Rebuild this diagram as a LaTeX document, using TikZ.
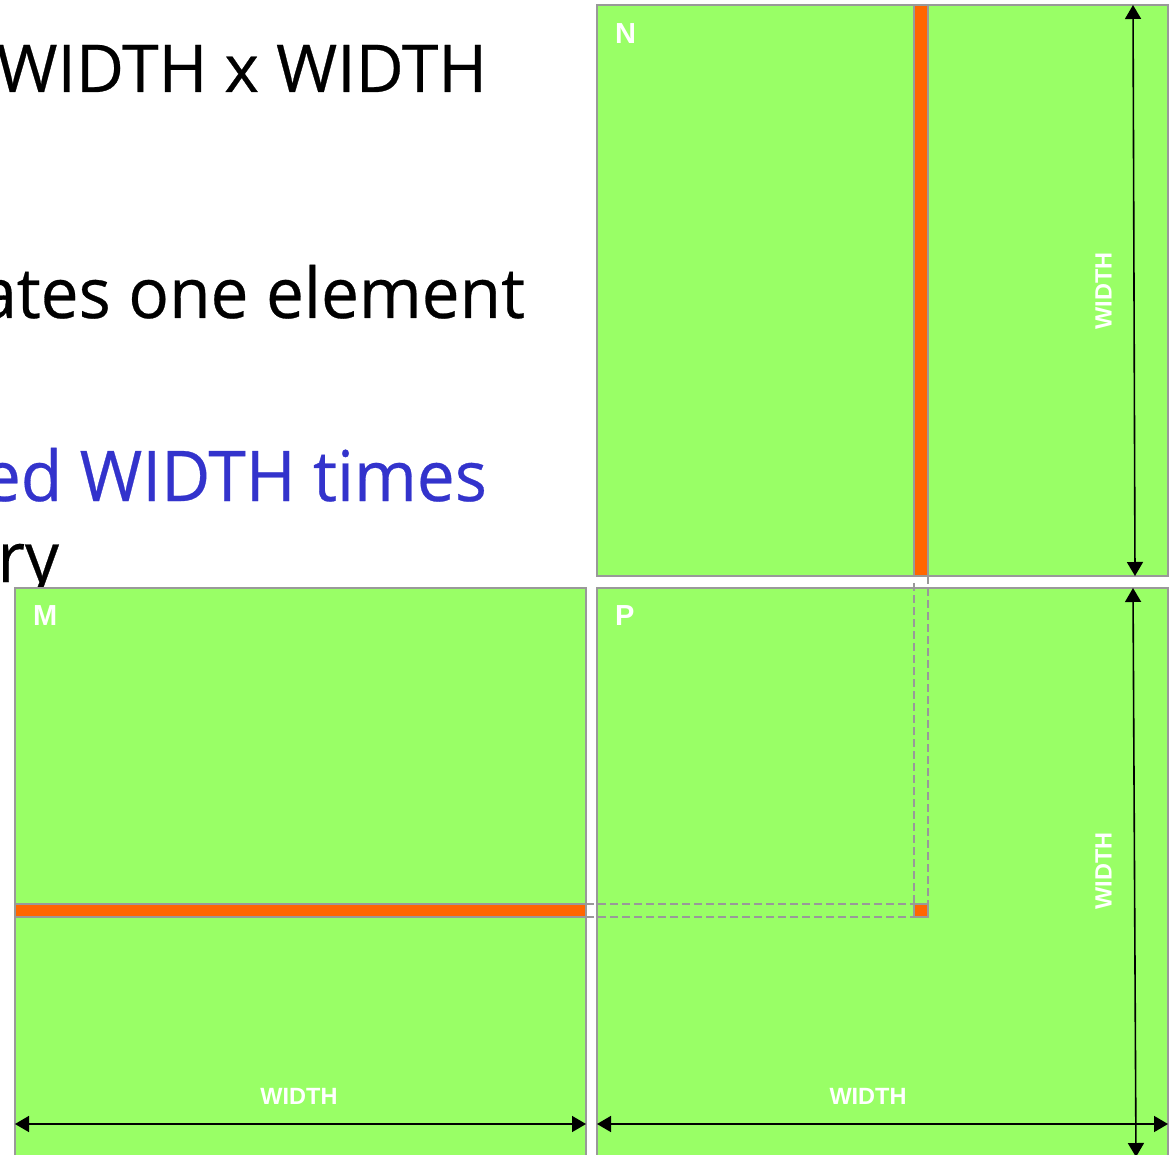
\documentclass[tikz,border=0pt]{standalone}
\usepackage{fontspec}
\newfontfamily\slidefont[FakeBold=0.4]{Open Sans}
\newfontfamily\slidefontn[FakeStretch=0.965,FakeBold=0.4]{Open Sans}
\newfontfamily\labfont{Liberation Sans}
\usetikzlibrary{arrows.meta}
\definecolor{matgreen}{RGB}{153,255,102}
\definecolor{stripcol}{RGB}{255,102,0}
\definecolor{edgecol}{RGB}{153,153,153}
\definecolor{slideblue}{RGB}{51,51,204}
\tikzset{
  matbox/.style={draw=edgecol, fill=matgreen, line width=2pt, minimum width=571pt, minimum height=571pt, anchor=north west, inner sep=0pt, outer sep=0pt},
  stripbox/.style={draw=edgecol, fill=stripcol, line width=1.5pt, anchor=north west, inner sep=0pt, outer sep=0pt},
  guide/.style={draw=edgecol, line width=2.4pt, dash pattern=on 8pt off 4pt},
  dimline/.style={draw=black, line width=1.6pt, {Triangle[length=14pt,width=16pt]}-{Triangle[length=14pt,width=16pt]}},
  slidetext/.style={inner sep=0pt, outer sep=0pt, text=black},
  matlabel/.style={inner sep=0pt, outer sep=0pt, text=white, font=\labfont\bfseries\fontsize{29}{34}\selectfont, anchor=base west},
  dimlabel/.style={inner sep=0pt, outer sep=0pt, text=white, font=\labfont\bfseries\fontsize{23.5}{28}\selectfont}
}
\begin{document}
\begin{tikzpicture}[x=1pt,y=-1pt]
\useasboundingbox (0,0) rectangle (1173,1155);
\clip (0,0) rectangle (1173,1155);
\fill[white] (0,0) rectangle (1173,1155);
% slide text (cut at the left edge)
\node[slidetext, font=\slidefont\fontsize{66}{79}\selectfont, anchor=base east] (t1) at (487,92) {WIDTH x WIDTH};
\node[slidetext, font=\slidefontn\fontsize{70}{84}\selectfont, anchor=base east] (t2) at (525,318) {ates one element};
\node[slidetext, font=\slidefontn\fontsize{70}{84}\selectfont, anchor=base east, text=slideblue] (t3) at (487,501) {ed WIDTH times};
\node[slidetext, font=\slidefontn\fontsize{70}{84}\selectfont, anchor=base east] (t4) at (59,582) {ry};
% matrices
\node[matbox] (N) at (597,5) {};
\node[matbox] (M) at (15,588) {};
\node[matbox] (P) at (597,588) {};
% strips
\node[stripbox, minimum width=14pt, minimum height=571pt] (ncol) at (914,5) {};
\node[stripbox, minimum width=571pt, minimum height=13pt] (mrow) at (15,904) {};
\node[stripbox, minimum width=14pt, minimum height=13pt] (pel) at (914,904) {};
% dashed guides
\coordinate (g1) at (914,583);
\draw[guide] (g1) -- (pel.north west);
\draw[guide] (ncol.south east) -- (pel.north east);
\draw[guide] (mrow.north east) -- (pel.north west);
\draw[guide] (mrow.south east) -- (pel.south west);
% labels
\node[matlabel] (nl) at (615,44) {N};
\node[matlabel] (ml) at (33,625) {M};
\node[matlabel] (pl) at (615,625) {P};
% dimension arrows
\coordinate (na1) at (1133,5);
\coordinate (na2) at (1135,576);
\coordinate (pa1) at (1133,588);
\coordinate (pa2) at (1136,1157);
\coordinate (ma1) at (15,1124);
\coordinate (ma2) at (586,1124);
\coordinate (ph1) at (597,1124);
\coordinate (ph2) at (1168,1124);
\draw[dimline] (na1) -- (na2);
\draw[dimline] (pa1) -- (pa2);
\draw[dimline] (ma1) -- (ma2);
\draw[dimline] (ph1) -- (ph2);
\node[dimlabel, anchor=base] (mw) at (299,1104) {WIDTH};
\node[dimlabel, anchor=base] (pw) at (868,1104) {WIDTH};
\node[dimlabel, rotate=90] (nw) at (1103.5,291) {WIDTH};
\node[dimlabel, rotate=90] (pv) at (1103.5,871) {WIDTH};
\end{tikzpicture}
\end{document}
